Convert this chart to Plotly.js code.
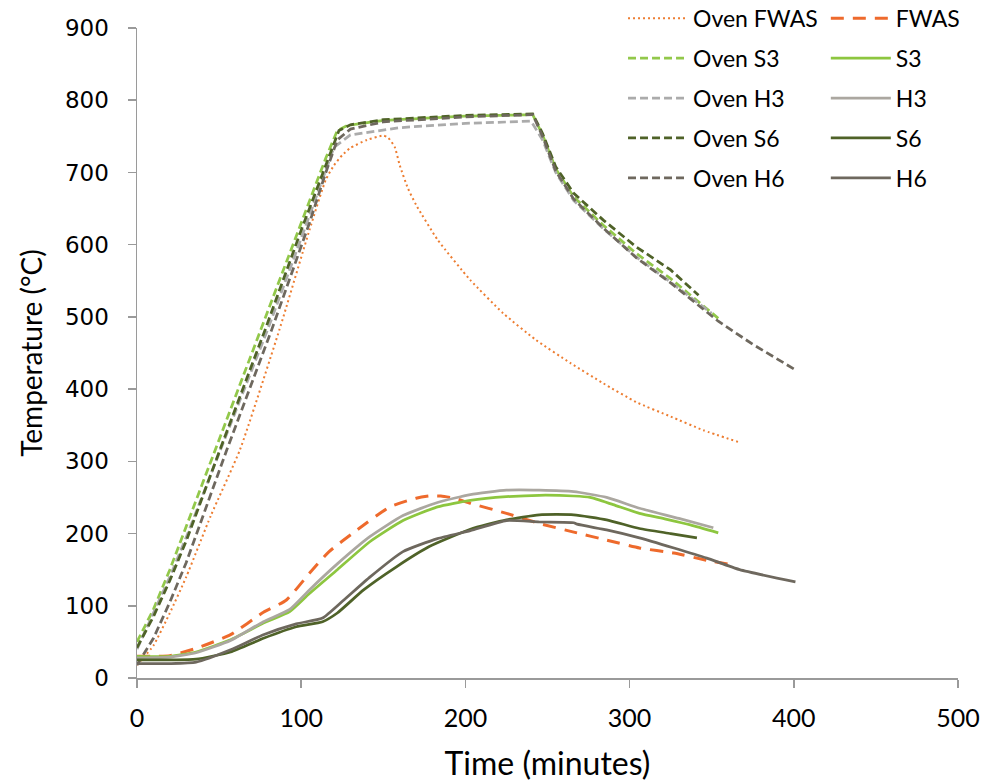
<!DOCTYPE html>
<html>
<head>
<meta charset="utf-8">
<script src="https://cdn.plot.ly/plotly-3.0.1.min.js"></script>
<style>html,body{margin:0;padding:0;background:#fff;}#chart{width:984px;height:783px;}</style>
</head>
<body>
<div id="chart"></div>
<script>
// ---- Data (time in minutes, temperature in °C) ----
const ovenFwasT = [0,10,20,30,45,62.7,86.7,105,115,120,125,130,140,150,153,157,160,165,170,183,203,223,243,264,284,304,325,345,366];
const ovenFwasY = [18,45,90,140,225,316,482,620,690,710,724,734,745,751,748,735,710,678,655,607,551,505,468,436,408,382,362,343,327];

const fwasT = [0,10,20,36,57,77,91,105,117,134,154,170,178,185,193,203,225,245,266,286,306,327,347,364];
const fwasY = [30,30,31,41,60,91,108,145,175,205,237,249,252,252,249,242,228,214,202,191,180,173,163,156];

const ovenS3T = [0,10,20,30,47.5,75,100,115,122,128,150,200,241,247,255,266,284,304,325,340,354];
const ovenS3Y = [50,95,150,210,316,482,630,720,758,765,772,778,780,752,705,666,627,588,553,525,498];

const s3T = [0,20,36,57,77,93,105,122,142,162,183,203,225,245,266,276,290,306,322,337,354];
const s3Y = [30,30,36,53,76,92,117,150,189,218,237,246,251,253,252,250,240,228,220,212,201];

const ovenH3T = [0,10,20,30,50,80,105,120,130,160,200,240,247,255,266,284,304,325,350];
const ovenH3Y = [40,90,140,195,310,485,640,735,752,762,768,771,745,700,661,622,583,548,505];

const h3T = [0,20,36,57,77,93,105,122,142,162,183,203,225,245,266,286,306,330,351];
const h3Y = [28,29,35,52,78,95,122,158,196,225,243,254,260,260,258,250,235,221,208];

const ovenS6T = [0,10,20,30,50.5,78,100,115,123,130,150,200,241,247,255,266,284,304,325,342];
const ovenS6Y = [42,85,135,190,316,482,620,710,758,766,773,779,781,754,708,671,634,597,565,530];

const s6T = [0,20,36,57,77,97,113,122,138,158,178,203,225,245,266,286,306,325,341];
const s6Y = [25,25,26,36,55,71,78,90,122,154,182,206,219,226,226,219,207,200,194];

const ovenH6T = [0,10,20,30,54.7,82,105,115,122,130,150,200,241,247,255,266,284,304,325,345,354,375,400];
const ovenH6Y = [18,55,105,160,316,482,630,700,745,760,770,777,780,750,702,663,623,582,547,510,494,462,428];

const h6T = [0,20,36,57,77,97,113,126,142,162,183,203,225,245,266,268,286,306,327,347,367,401];
const h6Y = [20,20,22,39,60,75,83,108,140,175,193,204,218,216,215,213,205,194,180,166,150,133];

const xTicks = [0,100,200,300,400,500];
const yTicks = [0,100,200,300,400,500,600,700,800,900];

// ---- Styles ----
const cFwas = '#ED7D31', cFwas2 = '#EE6A2C';
const cS3 = '#8DC63F', cH3 = '#ABA7A0', cS6 = '#4F6228', cH6 = '#6E685E';
const txtFont = 'Lato, Open Sans, sans-serif';

function tr(name, x, y, color, dash, width, legend, group, shape) {
  return {x: x, y: y, name: name, type: 'scatter', mode: 'lines',
    line: {color: color, dash: dash, width: width, shape: shape, smoothing: 0.5},
    legend: legend, legendgroup: group, hoverinfo: 'skip'};
}

const traces = [
  tr('Oven FWAS', ovenFwasT, ovenFwasY, cFwas, '2px,3px', 2, 'legend', 'a1', 'spline'),
  tr('Oven S3', ovenS3T, ovenS3Y, '#92C84A', '8px,4px', 2.75, 'legend', 'a2', 'linear'),
  tr('Oven H3', ovenH3T, ovenH3Y, '#ABABAB', '8px,4px', 2.75, 'legend', 'a3', 'linear'),
  tr('Oven S6', ovenS6T, ovenS6Y, cS6, '8px,4px', 2.75, 'legend', 'a4', 'linear'),
  tr('Oven H6', ovenH6T, ovenH6Y, cH6, '8px,4px', 2.75, 'legend', 'a5', 'linear'),
  tr('FWAS', fwasT, fwasY, cFwas2, '13px,9px', 3, 'legend2', 'b1', 'spline'),
  tr('S3', s3T, s3Y, cS3, 'solid', 2.75, 'legend2', 'b2', 'spline'),
  tr('H3', h3T, h3Y, cH3, 'solid', 2.75, 'legend2', 'b3', 'spline'),
  tr('S6', s6T, s6Y, cS6, 'solid', 2.75, 'legend2', 'b4', 'spline'),
  tr('H6', h6T, h6Y, cH6, 'solid', 2.75, 'legend2', 'b5', 'spline')
];

const legendBase = {
  orientation: 'v', yanchor: 'top', xanchor: 'left', bgcolor: 'rgba(0,0,0,0)',
  font: {family: txtFont, size: 23, color: '#000'}, tracegroupgap: 7, itemwidth: 60
};

const layout = {
  width: 984, height: 783,
  margin: {l: 137, r: 26, t: 28, b: 105, autoexpand: false},
  paper_bgcolor: '#fff', plot_bgcolor: '#fff',
  showlegend: true,
  legend: Object.assign({}, legendBase, {x: 0.592, y: 1.048}),
  legend2: Object.assign({}, legendBase, {x: 0.839, y: 1.048}),
  xaxis: {
    range: [0, 500], tickvals: xTicks, ticktext: xTicks.map(String),
    showgrid: false, zeroline: false, showline: true, linecolor: '#9A9A9A', linewidth: 1.5,
    ticks: 'outside', ticklen: 8, tickcolor: '#9A9A9A', tickwidth: 1.5,
    tickfont: {family: txtFont, size: 25, color: '#000'}, ticklabelstandoff: 9,
    title: {text: 'Time (minutes)', font: {family: txtFont, size: 32, color: '#000'}, standoff: 22}
  },
  yaxis: {
    range: [0, 900], tickvals: yTicks, ticktext: yTicks.map(String),
    showgrid: false, zeroline: false, showline: true, linecolor: '#9A9A9A', linewidth: 1.5,
    ticks: 'outside', ticklen: 8, tickcolor: '#9A9A9A', tickwidth: 1.5,
    tickfont: {family: 'DejaVu Sans, Verdana, sans-serif', size: 23, color: '#000'}, ticklabelstandoff: 14,
    title: {text: 'Temperature (°C)', font: {family: txtFont, size: 28, color: '#000'}, standoff: 14}
  }
};

Plotly.newPlot('chart', traces, layout, {displayModeBar: false, staticPlot: true});
</script>
</body>
</html>
